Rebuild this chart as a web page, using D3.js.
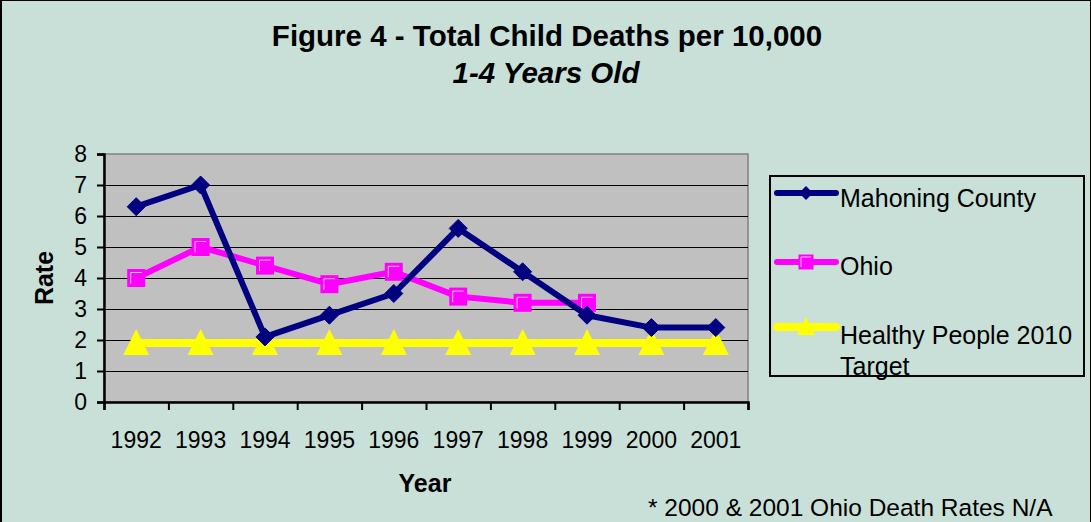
<!DOCTYPE html>
<html>
<head>
<meta charset="utf-8">
<script src="https://cdn.jsdelivr.net/npm/d3@7"></script>
<style>
  html, body { margin: 0; padding: 0; background: #C9E0D9; }
  svg { display: block; font-family: Arial, "Liberation Sans", sans-serif; }
</style>
</head>
<body>
<svg id="chart" width="1091" height="522"></svg>
<script>
// data
var years = ['1992', '1993', '1994', '1995', '1996', '1997', '1998', '1999', '2000', '2001'];
var mahoning = [6.3, 7.0, 2.1, 2.8, 3.5, 5.6, 4.2, 2.8, 2.4, 2.4];
var ohio = [4.0, 5.0, 4.4, 3.8, 4.2, 3.4, 3.2, 3.2, null, null];
var target = [1.9, 1.9, 1.9, 1.9, 1.9, 1.9, 1.9, 1.9, 1.9, 1.9];
var yTicks = [0, 1, 2, 3, 4, 5, 6, 7, 8];

var series = [
	{ name: 'Mahoning County', values: mahoning, color: '#000080', marker: 'diamond' },
	{ name: 'Ohio', values: ohio, color: '#FF00FF', marker: 'square' },
	{ name: 'Healthy People 2010;Target', values: target, color: '#FFFF00', marker: 'triangle' }
];

var svg = d3.select('#chart');
var W = 1091, H = 522;
var plot = { left: 104, right: 748, top: 154, bottom: 402 };

// outer frame
svg.append('rect').attr('width', W).attr('height', H).attr('fill', '#C9E0D9');
svg.append('line').attr('x1', 0).attr('x2', W).attr('y1', 0.5).attr('y2', 0.5).attr('stroke', '#000');
svg.append('line').attr('x1', 1).attr('x2', 1).attr('y1', 0).attr('y2', H).attr('stroke', '#000').attr('stroke-width', 2);
svg.append('line').attr('x1', W - 0.5).attr('x2', W - 0.5).attr('y1', 0).attr('y2', H).attr('stroke', '#000');

// titles
svg.append('text').attr('x', 547).attr('y', 46).attr('text-anchor', 'middle')
	.style('font-size', '29.5px').style('font-weight', 'bold')
	.text('Figure 4 - Total Child Deaths per 10,000');
svg.append('text').attr('x', 546).attr('y', 83).attr('text-anchor', 'middle')
	.style('font-size', '29.5px').style('font-weight', 'bold').style('font-style', 'italic')
	.text('1-4 Years Old');

var x = d3.scaleBand().domain(years).range([plot.left, plot.right]);
var y = d3.scaleLinear().domain([0, 8]).range([plot.bottom, plot.top]);

// plot area
svg.append('rect')
	.attr('x', plot.left).attr('y', plot.top)
	.attr('width', plot.right - plot.left).attr('height', plot.bottom - plot.top)
	.attr('fill', '#C0C0C0').attr('stroke', '#808080').attr('stroke-width', 1.5);

// gridlines
svg.append('g').selectAll('line')
	.data(yTicks.filter(d => d > 0 && d < 8))
	.enter().append('line')
	.attr('x1', plot.left).attr('x2', plot.right)
	.attr('y1', d => Math.round(y(d)) + 0.5).attr('y2', d => Math.round(y(d)) + 0.5)
	.attr('stroke', '#000').attr('stroke-width', 1);

// axes
var yAxis = d3.axisLeft(y).tickValues(yTicks).tickSize(7).tickPadding(10).tickFormat(d3.format('d'));
var gy = svg.append('g').attr('transform', 'translate(' + plot.left + ',0)').call(yAxis);
gy.select('.domain').attr('stroke-width', 2.5);
gy.selectAll('.tick line').attr('stroke-width', 2);
gy.selectAll('text').style('font-size', '23px').style('font-family', 'Arial, "Liberation Sans", sans-serif').attr('fill', '#000');

var xTickScale = d3.scalePoint().domain(d3.range(years.length + 1)).range([plot.left, plot.right]);
var gxt = svg.append('g').attr('transform', 'translate(0,' + plot.bottom + ')')
	.call(d3.axisBottom(xTickScale).tickSize(8).tickFormat(''));
gxt.select('.domain').attr('stroke-width', 2.5);
gxt.selectAll('.tick line').attr('stroke-width', 2);

var gx = svg.append('g').attr('transform', 'translate(0,' + plot.bottom + ')')
	.call(d3.axisBottom(x).tickSize(0).tickPadding(30));
gx.select('.domain').remove();
gx.selectAll('text').style('font-size', '23px').style('font-family', 'Arial, "Liberation Sans", sans-serif').attr('fill', '#000');

// axis titles
svg.append('text').attr('x', (plot.left + plot.right) / 2 - 1).attr('y', 492).attr('text-anchor', 'middle')
	.style('font-size', '25px').style('font-weight', 'bold').text('Year');
svg.append('text').attr('transform', 'translate(53,' + ((plot.top + plot.bottom) / 2) + ') rotate(-90)')
	.attr('text-anchor', 'middle')
	.style('font-size', '25px').style('font-weight', 'bold').text('Rate');

// markers
function drawMarker(g, type, color) {
	if (type === 'diamond') {
		g.append('path').attr('d', 'M0,-9L9,0L0,9L-9,0Z').attr('fill', color).attr('stroke', color);
	} else if (type === 'square') {
		g.append('rect').attr('x', -8).attr('y', -8).attr('width', 16).attr('height', 16)
			.attr('fill', color).attr('stroke', color).attr('stroke-width', 2);
		g.append('path').attr('d', 'M-5.5,5.5V-5.5H5.5').attr('fill', 'none')
			.attr('stroke', '#FFC0FF').attr('stroke-width', 1);
	} else {
		g.append('path').attr('d', 'M0,-14L13,12L-13,12Z').attr('fill', color);
	}
}

var line = d3.line()
	.defined(d => d != null)
	.x((d, i) => x(years[i]) + x.bandwidth() / 2)
	.y(d => y(d));

// draw target first, then Ohio, then Mahoning on top
[series[2], series[1], series[0]].forEach(s => {
	svg.append('path').datum(s.values)
		.attr('d', line)
		.attr('fill', 'none').attr('stroke', s.color).attr('stroke-width', s.marker === 'triangle' ? 8 : 6)
		.attr('stroke-linejoin', 'round');
	s.values.forEach((v, i) => {
		if (v == null) return;
		var g = svg.append('g').attr('transform', 'translate(' + (x(years[i]) + x.bandwidth() / 2) + ',' + y(v) + ')');
		drawMarker(g, s.marker, s.color);
	});
});

// legend
var legend = svg.append('g');
legend.append('rect').attr('x', 770).attr('y', 176).attr('width', 314).attr('height', 200)
	.attr('fill', 'none').attr('stroke', '#000').attr('stroke-width', 2);
var legendY = [193, 262, 327];
var legendBase = [207, 275, 344];
series.forEach((s, i) => {
	var gy0 = legendY[i];
	legend.append('line').attr('x1', 777).attr('x2', 836).attr('y1', gy0).attr('y2', gy0)
		.attr('stroke', s.color).attr('stroke-width', s.marker === 'triangle' ? 8 : 6).attr('stroke-linecap', 'round');
	var m = legend.append('g').attr('transform', 'translate(806,' + gy0 + ')');
	if (s.marker === 'triangle') {
		m.append('path').attr('d', 'M0,-10L9,8L-9,8Z').attr('fill', s.color);
	} else if (s.marker === 'square') {
		m.append('rect').attr('x', -7).attr('y', -7).attr('width', 14).attr('height', 14).attr('fill', s.color).attr('stroke', s.color);
		m.append('path').attr('d', 'M-5,5V-5H5').attr('fill', 'none').attr('stroke', '#FFC0FF');
	} else {
		m.append('path').attr('d', 'M0,-7L7,0L0,7L-7,0Z').attr('fill', s.color);
	}
	var t = legend.append('text').attr('x', 840).attr('y', legendBase[i]).style('font-size', '25px');
	s.name.split(';').forEach((part, j) => {
		t.append('tspan').attr('x', 840).attr('dy', j === 0 ? 0 : 31).text(part);
	});
});

// footnote
svg.append('text').attr('x', 648).attr('y', 516).style('font-size', '24.5px')
	.text('* 2000 & 2001 Ohio Death Rates N/A');
</script>
</body>
</html>
